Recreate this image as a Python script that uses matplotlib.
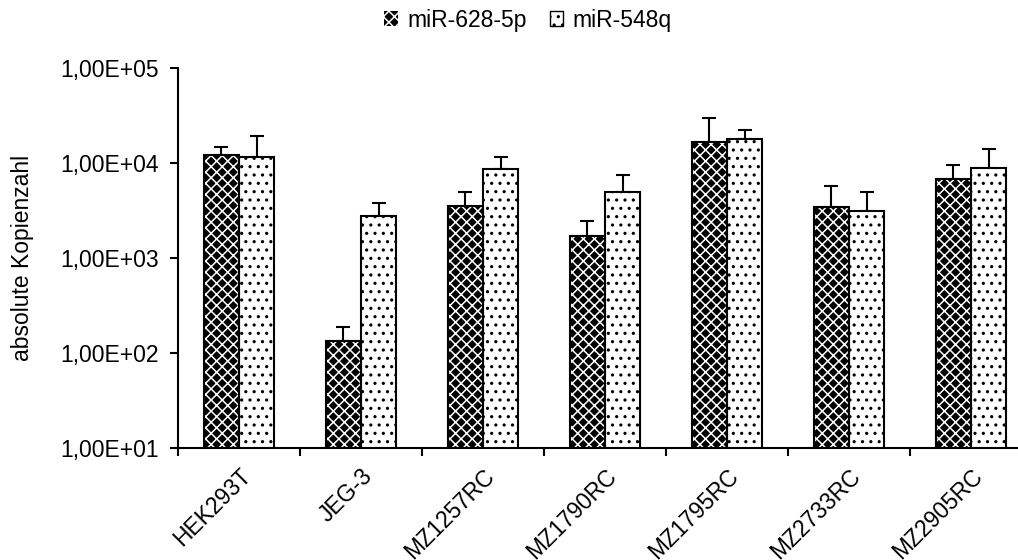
import numpy as np
import matplotlib
matplotlib.use("Agg")
import matplotlib.pyplot as plt
from matplotlib.ticker import FixedLocator, FuncFormatter
from matplotlib.patches import Patch

plt.rcParams['font.family'] = ['Liberation Sans', 'DejaVu Sans']
plt.rcParams['hatch.linewidth'] = 1.1

cell_lines = ["HEK293T", "JEG-3", "MZ1257RC", "MZ1790RC", "MZ1795RC", "MZ2733RC", "MZ2905RC"]
mir628 = [12000, 135, 3500, 1700, 16600, 3450, 6800]
mir628_err = [2800, 55, 1450, 750, 13000, 2300, 2800]
mir548 = [11700, 2750, 8600, 5000, 17800, 3150, 8800]
mir548_err = [7500, 1000, 3000, 2500, 4300, 1800, 5200]

FS = 16.5
x = np.arange(len(cell_lines))
w = 0.29

fig = plt.figure(figsize=(10.18, 5.6), dpi=100)
ax = fig.add_axes([178/1018, 0.2, 854/1018, 380/560])

# dark bars: black fill, white diamond hatch
ax.bar(x - w/2, mir628, w, color='black', edgecolor='white', hatch='xxx', linewidth=0, zorder=2)
ax.bar(x - w/2, mir628, w, fill=False, edgecolor='black', linewidth=1.5, zorder=3)
ax.errorbar(x - w/2, mir628, yerr=[np.zeros(len(x)), mir628_err], fmt='none',
            ecolor='black', elinewidth=1.5, capsize=5, capthick=1.5, zorder=1)

# light bars: white fill, sparse dots
ax.bar(x + w/2, mir548, w, color='white', edgecolor='black', hatch='..', linewidth=1.5, zorder=2)
ax.errorbar(x + w/2, mir548, yerr=[np.zeros(len(x)), mir548_err], fmt='none',
            ecolor='black', elinewidth=1.5, capsize=5, capthick=1.5, zorder=1)

ax.set_yscale('log')
ax.set_ylim(10, 1e5)
ax.set_xlim(-0.5, 6.5)
ax.yaxis.set_major_locator(FixedLocator([1e1, 1e2, 1e3, 1e4, 1e5]))
ax.yaxis.set_minor_locator(FixedLocator([]))
ax.yaxis.set_major_formatter(FuncFormatter(lambda v, p: "1,00E+%02d" % int(round(np.log10(v)))))

ax.set_xticks(x)
ax.set_xticklabels(cell_lines, rotation=45, ha='right', rotation_mode='anchor')
ax.set_xticks(np.arange(-0.5, 7.0, 1.0), minor=True)
ax.tick_params(axis='x', which='major', length=0, pad=12, labelsize=FS)
ax.tick_params(axis='x', which='minor', length=6, width=1.5, direction='out')
ax.tick_params(axis='y', which='major', length=6, width=1.5, labelsize=FS, pad=8)

for s in ['top', 'right']:
    ax.spines[s].set_visible(False)
for s in ['left', 'bottom']:
    ax.spines[s].set_linewidth(1.5)

ax.set_ylabel("absolute Kopienzahl", fontsize=FS, labelpad=19)

handles = [Patch(facecolor='black', edgecolor='white', hatch='xxx', linewidth=0),
           Patch(facecolor='white', edgecolor='black', hatch='..', linewidth=1)]
fig.legend(handles, ["miR-628-5p", "miR-548q"], loc='center', bbox_to_anchor=(528/1018, 1-20/560),
           ncol=2, frameon=False, fontsize=FS, handlelength=0.6, handleheight=0.6,
           handletextpad=0.4, columnspacing=1.0)

fig.savefig("out.png", dpi=100)
